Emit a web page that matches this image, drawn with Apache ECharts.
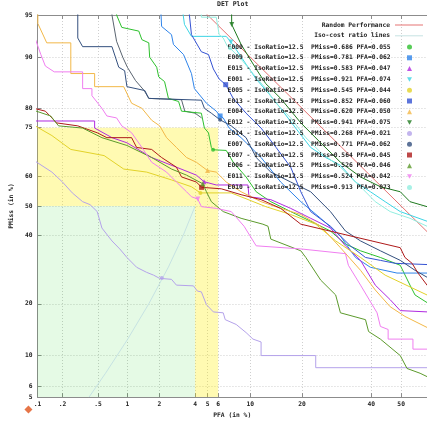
<!DOCTYPE html>
<html>
<head>
<meta charset="utf-8">
<script src="https://cdn.jsdelivr.net/npm/echarts@6/dist/echarts.min.js"></script>
<style>
html, body { margin: 0; padding: 0; background: #fff; }
#chart { width: 427px; height: 423px; }
</style>
</head>
<body>
<div id="chart"></div>
<script>
// axis ticks, in %
var xTicks = [0.1, 0.2, 0.5, 1, 2, 4, 5, 6, 10, 20, 40, 50];
var xTickLabels = ['.1', '.2', '.5', '1', '2', '4', '5', '6', '10', '20', '40', '50'];
var yTicks = [5, 6, 10, 20, 40, 50, 60, 75, 80, 90, 95];
var yTickLabels = ['5', '6', '10', '20', '40', '50', '60', '75', '80', '90', '95'];
var xRange = [0.1, 58.7];
var yRange = [5, 95];

// shaded zones [pfaFrom, pmissFrom, pfaTo, pmissTo]
var yellowZones = [[0.1, 50, 6, 75], [4, 5, 6, 50]];
var greenZones = [[0.1, 5, 4, 50]];

// reference lines, [PFA %, PMiss %]
var randomLine = [[4, 96], [65, 35]];
var isoLine = [[0.4, 5], [0.6, 7.5], [1, 12.5], [1.6, 20], [2.4, 30], [3.2, 40], [4, 50]];

// legend rows (one per system)
var legendLabels = [
  'E000 - IsoRatio=12.5  PMiss=0.686 PFA=0.055',
  'E009 - IsoRatio=12.5  PMiss=0.781 PFA=0.062',
  'E015 - IsoRatio=12.5  PMiss=0.583 PFA=0.047',
  'E001 - IsoRatio=12.5  PMiss=0.921 PFA=0.074',
  'E005 - IsoRatio=12.5  PMiss=0.545 PFA=0.044',
  'E013 - IsoRatio=12.5  PMiss=0.852 PFA=0.060',
  'E004 - IsoRatio=12.5  PMiss=0.620 PFA=0.050',
  'E012 - IsoRatio=12.5  PMiss=0.941 PFA=0.075',
  'E014 - IsoRatio=12.5  PMiss=0.268 PFA=0.021',
  'E007 - IsoRatio=12.5  PMiss=0.771 PFA=0.062',
  'E007 - IsoRatio=12.5  PMiss=0.564 PFA=0.045',
  'E006 - IsoRatio=12.5  PMiss=0.526 PFA=0.046',
  'E011 - IsoRatio=12.5  PMiss=0.524 PFA=0.042',
  'E010 - IsoRatio=12.5  PMiss=0.913 PFA=0.073'
];
// operating points (%)
var pointPfa = [5.5, 6.2, 4.7, 7.4, 4.4, 6.8, 5.0, 7.5, 2.1, 6.2, 4.5, 4.6, 4.2, 7.3];
var pointPmiss = [68.6, 78.1, 58.3, 92.1, 54.5, 85.2, 62.0, 94.1, 26.8, 77.1, 56.4, 57.6, 52.4, 91.3];

// DET curves, [PFA %, PMiss %]
var detE000 = [[0.78,97],[0.78,95],[0.88,93.8],[1.29,93.4],[1.38,92.4],[1.6,92.0],[1.63,90.0],[1.89,88.4],[1.97,86.7],[2.22,85.8],[2.4,82.3],[2.93,81.6],[3.1,79.3],[4.48,78.8],[4.73,74.9],[5.08,73.6],[5.34,69.3],[5.5,68.6],[6.86,68.4],[7.68,64.7],[9.38,59.9],[10.9,54.9],[13.4,51.5],[17.4,48.1],[22.1,44.8],[27.4,41.5],[31.8,37.2],[36.5,35.0],[43.0,32.9],[49.7,30.5],[53.0,24.8],[54.7,22.2],[58.7,20.3],[65,19]];
var detE009 = [[2.01,97],[2.09,93.9],[2.55,93.0],[2.65,91.8],[3.22,90.4],[3.74,87.3],[3.95,84.4],[4.9,81.2],[5.81,79.3],[6.2,78.1],[6.53,77.6],[7.2,74.9],[8.69,72.2],[11.7,66.2],[15.3,58.2],[19.7,51.5],[24.7,45.8],[30.3,39.8],[34.9,32.9],[39.7,29.9],[48.6,28.2],[65,28.2]];
var detE015 = [[0.09,76.8],[0.46,76.8],[0.46,74.9],[0.7,72.2],[0.99,70.7],[1.7,66.2],[2.81,63.1],[4.09,60.5],[4.7,58.3],[5.81,57.2],[9.65,57.2],[9.8,53.2],[13.4,52.2],[17.4,49.2],[22.1,45.8],[27.4,42.5],[31.8,36.6],[36.5,32.0],[41.3,24.8],[46.3,21.0],[49.7,18.4],[65,17.9]];
var detE001 = [[2.98,97],[3.28,94.1],[3.74,92.8],[6.86,92.8],[7.4,92.1],[8.05,91.1],[9.38,88.9],[10.9,86.3],[13.0,83.4],[15.3,80.0],[18.5,74.9],[22.1,69.3],[26.1,66.2],[30.3,63.7],[34.9,58.2],[39.7,54.9],[44.6,51.5],[49.7,48.1],[58.7,44.8],[65,43]];
var detE005 = [[0.09,75.7],[0.15,72.8],[0.25,68.7],[0.38,67.8],[0.58,66.8],[0.92,62.5],[1.53,61.5],[2.55,58.9],[3.74,56.6],[4.4,54.5],[7.44,54.5],[9.38,52.5],[12.5,49.8],[17.4,47.1],[23.4,43.8],[28.9,38.2],[36.5,32.9],[44.6,27.6],[58.7,22.2],[65,21]];
var detE013 = [[3.41,97],[3.74,93.0],[4.48,90.8],[5.08,90.4],[5.53,88.1],[6.1,86.3],[6.8,85.2],[7.68,82.3],[9.38,78.8],[11.7,74.9],[14.4,69.3],[17.4,63.1],[19.7,54.9],[22.1,48.1],[27.4,43.1],[33.3,36.6],[38.1,32.9],[43.0,32.0],[48.0,31.1],[65,30.5]];
var detE004 = [[0.101,97],[0.101,94.2],[0.13,92.0],[0.25,92.0],[0.25,87.3],[0.46,87.3],[0.46,84.8],[0.92,84.8],[1.1,81.2],[1.38,80.0],[1.7,77.0],[2.01,75.5],[2.31,72.2],[2.81,69.3],[3.41,66.2],[4.09,64.7],[5.0,62.0],[5.81,61.5],[6.86,58.2],[8.69,54.9],[11.7,51.5],[15.3,49.2],[19.7,47.1],[24.7,43.1],[30.3,36.0],[36.5,29.0],[41.3,23.5],[46.3,19.3],[51.3,17.1],[58.7,14.8],[65,13.5]];
var detE012 = [[7.44,97],[7.5,94.1],[8.69,91.8],[10.9,88.1],[12.5,85.4],[15.3,82.3],[19.7,76.3],[24.7,70.7],[30.3,64.7],[36.5,59.9],[43.0,56.6],[49.7,54.9],[53.0,51.5],[58.7,49.8],[65,48]];
var detE014 = [[0.09,65.3],[0.15,61.5],[0.2,58.2],[0.26,54.5],[0.34,51.5],[0.41,50.5],[0.49,48.1],[0.55,42.5],[0.7,38.2],[0.84,35.6],[0.99,32.9],[1.23,29.9],[1.53,28.4],[1.77,27.6],[2.0,26.7],[2.55,26.4],[2.81,24.8],[3.88,24.6],[4.17,23.2],[4.48,23.0],[4.9,19.8],[5.53,18.1],[6.53,17.9],[6.75,16.4],[8.05,15.4],[9.38,13.8],[10.4,12.6],[11.7,12.1],[11.7,9.9],[23.4,9.9],[23.4,8.2],[65,8.2]];
var detE007a = [[0.3,97],[0.3,92.6],[0.34,91.5],[0.7,91.5],[0.82,88.4],[0.94,87.8],[0.99,84.8],[1.47,84.0],[1.6,82.3],[4.48,81.9],[4.73,80.0],[5.34,78.8],[6.2,77.1],[7.44,75.5],[9.38,72.2],[10.9,66.2],[13.4,61.5],[17.4,58.2],[22.1,54.9],[27.4,48.1],[31.8,41.5],[36.5,38.2],[43.0,35.0],[49.7,32.0],[54.7,29.0],[58.7,27.0],[62,25.5]];
var detE007b = [[0.09,80],[0.125,79.3],[0.15,77.6],[0.17,76.3],[0.3,75.5],[0.49,73.6],[0.62,72.2],[1.1,72.2],[1.23,69.3],[1.7,68.7],[2.09,66.2],[2.81,63.1],[3.1,59.9],[4.09,58.2],[4.5,56.4],[6.32,55.9],[8.69,53.9],[11.7,52.2],[15.3,49.2],[19.7,43.8],[49.7,36.0],[51.3,32.9],[53.7,31.1],[55.7,28.2],[58.7,24.8],[62,22]];
var detE006 = [[0.09,79.5],[0.145,78.1],[0.18,75.5],[0.34,74.9],[0.55,72.2],[0.99,69.9],[1.7,66.2],[2.55,62.5],[3.41,60.5],[4.6,57.6],[4.9,54.9],[5.34,51.5],[6.53,48.1],[8.69,45.8],[12.0,43.8],[12.9,43.1],[13.4,38.8],[19.7,35.0],[20.9,32.9],[24.7,26.2],[28.9,22.2],[30.3,17.9],[38.1,16.4],[39.1,14.0],[43.0,12.6],[49.7,9.9],[52.0,8.1],[56.4,7.5],[58.7,7.1],[62,6.8]];
var detE011 = [[0.09,93],[0.11,90.4],[0.125,88.6],[0.16,87.6],[0.34,87.6],[0.34,84.4],[0.43,84.4],[0.43,82.9],[0.55,80.0],[0.62,78.1],[0.78,77.6],[0.88,75.5],[1.1,73.6],[1.38,69.3],[1.7,64.7],[2.31,61.5],[2.81,58.2],[3.41,54.9],[3.74,53.2],[4.2,52.4],[4.48,49.8],[5.81,49.2],[7.44,48.1],[9.1,43.1],[10.9,36.6],[19.7,35.6],[31.8,34.1],[32.7,30.5],[36.5,24.8],[41.9,17.9],[43.0,15.0],[45.6,14.4],[45.6,12.6],[54.0,12.6],[54.0,10.9],[65,10.9]];
var detE010 = [[4.4,97],[4.48,94.8],[5.81,94.8],[6.1,93.0],[6.53,92.6],[6.97,91.6],[7.3,91.3],[8.69,89.7],[10.4,87.3],[12.5,84.4],[14.4,81.2],[17.4,77.6],[20.9,72.2],[24.7,67.8],[30.3,63.1],[36.5,56.6],[41.3,51.5],[46.3,48.1],[53.0,45.8],[58.7,43.1],[65,41]];
// second grey trace entering from the top near 0.7 %
var detGrey = [[0.7,97],[0.7,95],[0.78,92.2],[0.9,90.0],[1.0,88.4],[1.2,86.0],[1.45,84.0],[1.6,82.3],[3.1,82.0],[3.3,79.3],[4.0,78.8],[4.5,77.6]];

// stray marker left of the origin
var strayMark = [[0.077, 4.0]];

var curves = [detE000, detE009, detE015, detE001, detE005, detE013, detE004, detE012, detE014, detE007a, detE007b, detE006, detE011, detE010];
var colors = ['#2ec02e', '#2f84ea', '#b02ae0', '#3cd4e4', '#e2d22a', '#3452d2', '#f2b848', '#1f7a1f', '#b4a2ea', '#34507e', '#ae1a1a', '#5c9a2c', '#f07ef0', '#92eee0'];
var invTri = 'path://M0,0 L10,0 L5,9 Z';
var symbols = ['circle', 'rect', 'triangle', invTri, 'circle', 'rect', 'triangle', invTri, 'circle', 'circle', 'rect', 'triangle', invTri, 'circle'];

var font = 'DejaVu Sans Mono';

// inverse normal cdf (Acklam)
function probit(p) {
  var a = [-3.969683028665376e+01, 2.209460984245205e+02, -2.759285104469687e+02, 1.383577518672690e+02, -3.066479806614716e+01, 2.506628277459239e+00];
  var b = [-5.447609879822406e+01, 1.615858368580409e+02, -1.556989798598866e+02, 6.680131188771972e+01, -1.328068155288572e+01];
  var c = [-7.784894002430293e-03, -3.223964580411365e-01, -2.400758277161838e+00, -2.549732539343734e+00, 4.374664141464968e+00, 2.938163982698783e+00];
  var d = [7.784695709041462e-03, 3.224671290700398e-01, 2.445134137142996e+00, 3.754408661907416e+00];
  var plow = 0.02425, q, r;
  if (p < plow) {
    q = Math.sqrt(-2 * Math.log(p));
    return (((((c[0]*q+c[1])*q+c[2])*q+c[3])*q+c[4])*q+c[5]) / ((((d[0]*q+d[1])*q+d[2])*q+d[3])*q+1);
  }
  if (p > 1 - plow) {
    q = Math.sqrt(-2 * Math.log(1 - p));
    return -(((((c[0]*q+c[1])*q+c[2])*q+c[3])*q+c[4])*q+c[5]) / ((((d[0]*q+d[1])*q+d[2])*q+d[3])*q+1);
  }
  q = p - 0.5; r = q * q;
  return (((((a[0]*r+a[1])*r+a[2])*r+a[3])*r+a[4])*r+a[5])*q / (((((b[0]*r+b[1])*r+b[2])*r+b[3])*r+b[4])*r+1);
}
function pr(v) { return probit(v / 100); }
function pt(d) { return [pr(d[0]), pr(d[1])]; }

function tickLabel(ticks, labels) {
  return function (v) {
    for (var i = 0; i < ticks.length; i++) {
      if (Math.abs(pr(ticks[i]) - v) < 1e-6) return labels[i];
    }
    return '';
  };
}

function pad(s) {
  while (s.length < 43) s = ' ' + s;
  return s;
}

var txt = { fontFamily: font, fontSize: 6.3, fontWeight: 'bold', color: '#222' };
var legendText = { fontFamily: font, fontSize: 6.3, fontWeight: 'bold', color: '#222', lineHeight: 8 };

function zones(list) {
  return list.map(function (z) {
    return [{ xAxis: pr(z[0]), yAxis: pr(z[1]) }, { xAxis: pr(z[2]), yAxis: pr(z[3]) }];
  });
}

var series = [];
series.push({
  name: 'zones', type: 'line', data: [], z: 1, silent: true,
  markArea: { silent: true, itemStyle: { color: 'rgba(0,208,0,0.1)' }, data: zones(greenZones) }
});
series.push({
  name: 'zones2', type: 'line', data: [], z: 1, silent: true,
  markArea: { silent: true, itemStyle: { color: 'rgba(255,240,0,0.3)' }, data: zones(yellowZones) }
});
series.push({
  name: 'Iso-cost ratio lines', type: 'line', z: 2, symbol: 'none',
  lineStyle: { color: '#c6e2e2', width: 1 }, itemStyle: { color: '#c6e2e2' },
  data: isoLine.map(pt)
});
series.push({
  name: 'Random Performance', type: 'line', z: 2, symbol: 'none',
  lineStyle: { color: '#e47272', width: 1 }, itemStyle: { color: '#e47272' },
  data: randomLine.map(pt)
});
series.push({
  name: 'grey', type: 'line', z: 3, symbol: 'none',
  lineStyle: { color: '#5a6470', width: 1 }, data: detGrey.map(pt)
});
curves.forEach(function (c, i) {
  series.push({
    name: 'curve' + i, type: 'line', z: 3, symbol: 'none',
    lineStyle: { color: colors[i], width: 1 },
    data: c.map(pt)
  });
});
legendLabels.forEach(function (n, i) {
  series.push({
    name: n, type: 'scatter', z: 5, symbol: symbols[i],
    symbolSize: symbols[i] === 'circle' ? 4 : 5,
    itemStyle: { color: colors[i] },
    data: [pt([pointPfa[i], pointPmiss[i]])]
  });
});
series.push({
  name: 'stray', type: 'scatter', z: 5, clip: false, symbol: 'diamond', symbolSize: 8,
  itemStyle: { color: '#e0521a' }, data: strayMark.map(pt)
});

var axisLineStyle = { color: '#8c8c8c', width: 1 };
var gridLine = { show: true, lineStyle: { color: '#cfcfcf', type: [1, 2], width: 1 } };

var chart = echarts.init(document.getElementById('chart'), null, { renderer: 'canvas' });
chart.setOption({
  animation: false,
  backgroundColor: '#fff',
  title: { text: 'DET Plot', left: 217, top: 1, padding: 0, textStyle: { fontFamily: font, fontSize: 6.5, fontWeight: 'bold', color: '#222' } },
  grid: { left: 35, right: 0, top: 15, bottom: 19, containLabel: false },
  legend: [{
    orient: 'vertical', right: 4, top: 21, align: 'right', padding: 0,
    itemWidth: 28, itemHeight: 1, itemGap: 2.8, icon: 'rect',
    textStyle: legendText,
    formatter: pad,
    data: ['Random Performance', 'Iso-cost ratio lines']
  }, {
    orient: 'vertical', right: 15, top: 43, align: 'right', padding: 0,
    itemWidth: 5, itemHeight: 5, itemGap: 2.8,
    textStyle: legendText,
    formatter: function (s) { return pad(s) + '   '; },
    data: legendLabels
  }],
  xAxis: [{
    type: 'value', min: pr(xRange[0]), max: pr(xRange[1]),
    name: 'PFA (in %)', nameLocation: 'middle', nameGap: 13, nameTextStyle: txt,
    axisLine: { show: true, onZero: false, lineStyle: axisLineStyle },
    axisTick: { show: true, inside: true, length: 4, lineStyle: axisLineStyle, customValues: xTicks.map(pr) },
    axisLabel: Object.assign({ margin: 4, customValues: xTicks.map(pr), formatter: tickLabel(xTicks, xTickLabels) }, txt),
    splitLine: gridLine
  }, {
    type: 'value', position: 'top', min: pr(xRange[0]), max: pr(xRange[1]),
    axisLine: { show: true, onZero: false, lineStyle: axisLineStyle },
    axisTick: { show: true, inside: true, length: 4, lineStyle: axisLineStyle, customValues: xTicks.map(pr) },
    axisLabel: { show: false },
    splitLine: { show: false }
  }],
  yAxis: {
    type: 'value', min: pr(yRange[0]), max: pr(yRange[1]),
    name: 'PMiss (in %)', nameLocation: 'middle', nameGap: 10, nameRotate: 90, nameTextStyle: txt,
    axisLine: { show: true, onZero: false, lineStyle: axisLineStyle },
    axisTick: { show: true, inside: true, length: 4, lineStyle: axisLineStyle, customValues: yTicks.map(pr) },
    axisLabel: Object.assign({ margin: 5, customValues: yTicks.map(pr), formatter: tickLabel(yTicks, yTickLabels) }, txt),
    splitLine: gridLine
  },
  series: series
});
</script>
</body>
</html>
